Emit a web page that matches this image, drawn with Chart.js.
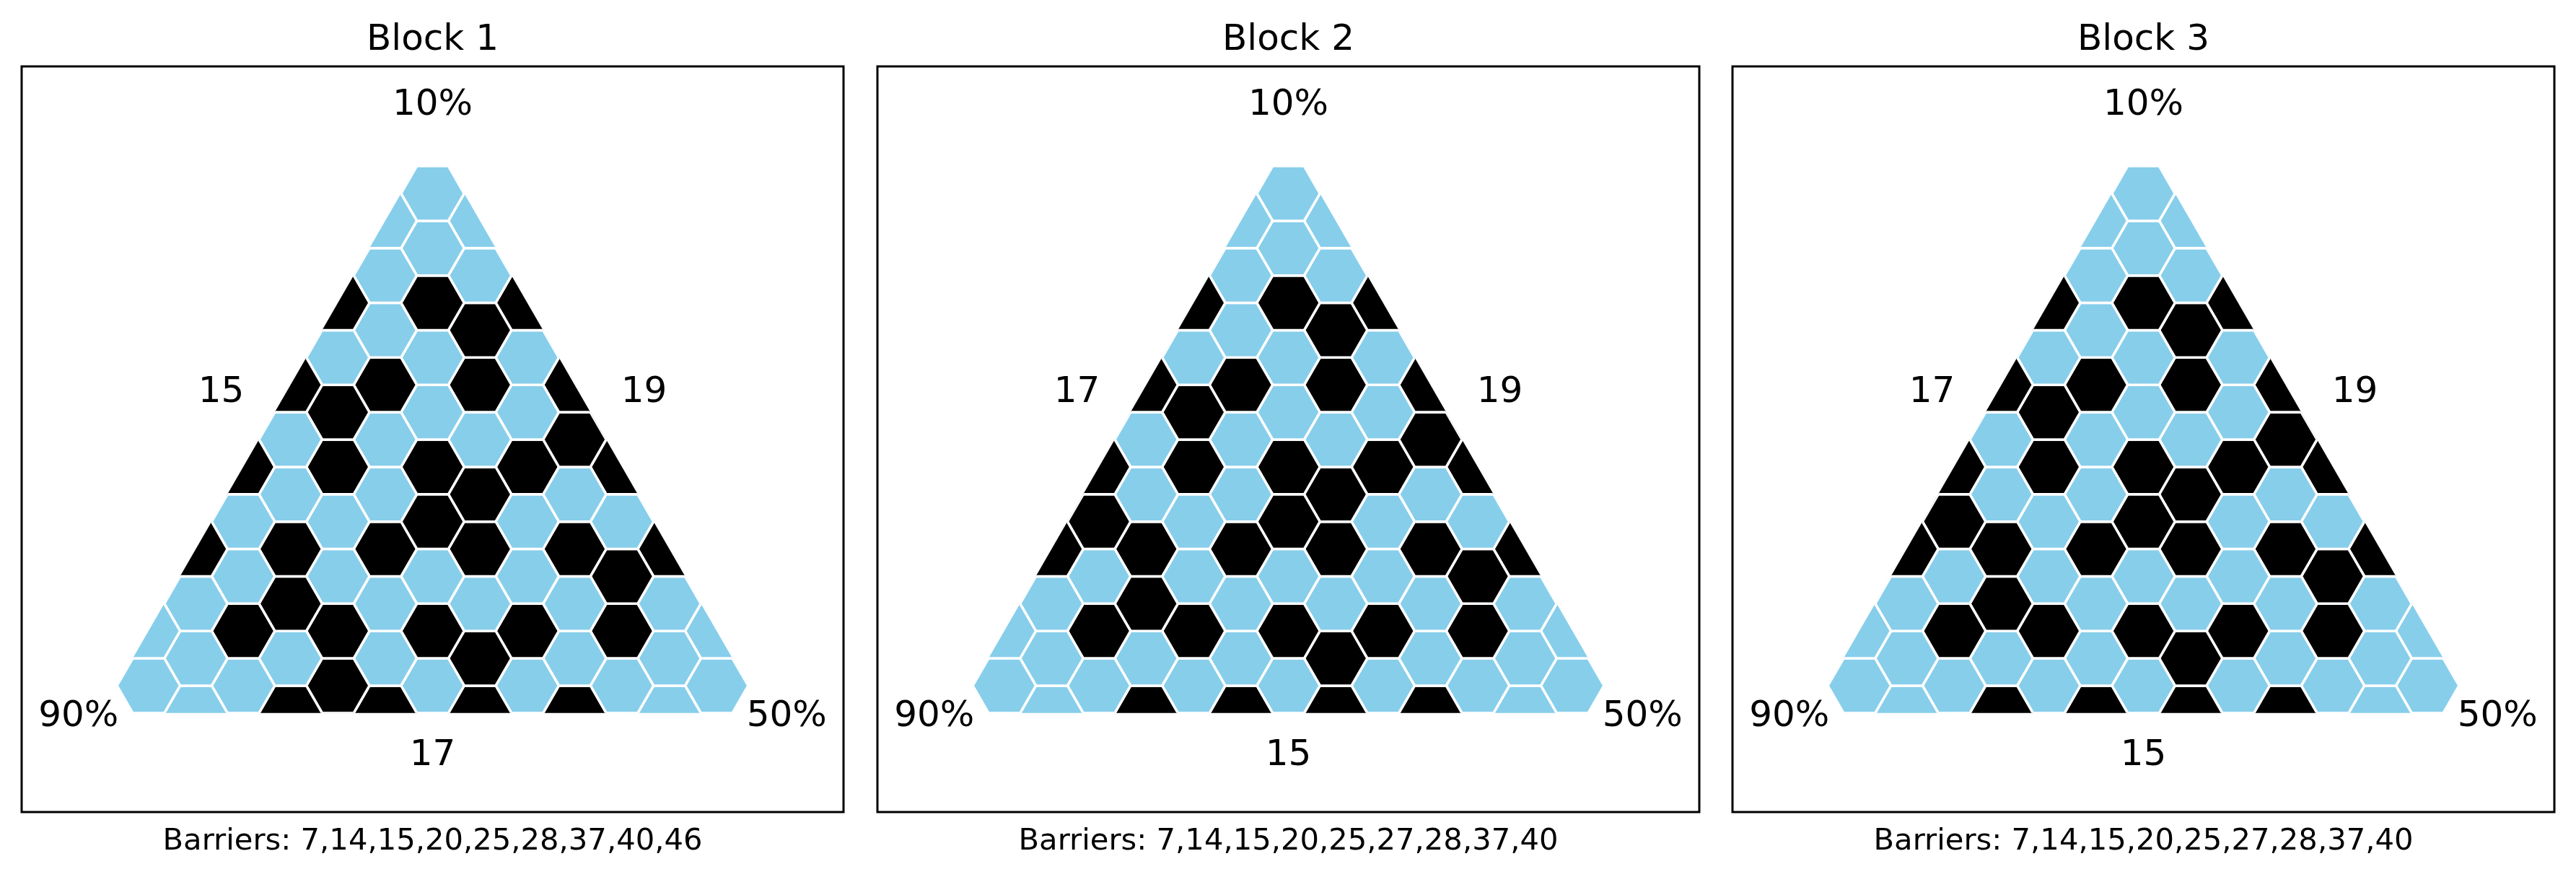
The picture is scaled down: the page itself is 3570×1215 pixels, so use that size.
<!DOCTYPE html>
<html>
<head>
<meta charset="utf-8">
<script src="https://cdn.jsdelivr.net/npm/chart.js@4.4.1/dist/chart.umd.min.js"></script>
<style>
  html, body { margin: 0; padding: 0; background: #ffffff; }
  body { width: 3570px; height: 1215px; position: relative; overflow: hidden; }
  canvas { position: absolute; top: 0; }
</style>
</head>
<body>
<canvas id="c0" width="1185" height="1215" style="left:7px"></canvas>
<canvas id="c1" width="1185" height="1215" style="left:1193px"></canvas>
<canvas id="c2" width="1185" height="1215" style="left:2378px"></canvas>
<script>
// ---------------- data ----------------
const blockTitles = ['Block 1', 'Block 2', 'Block 3'];
const barrierLabels = [
  'Barriers: 7,14,15,20,25,28,37,40,46',
  'Barriers: 7,14,15,20,25,27,28,37,40',
  'Barriers: 7,14,15,20,25,27,28,37,40'
];
const cornerLabels = ['10%', '90%', '50%'];      // top, bottom-left, bottom-right
const leftEdgeLabels = ['15', '17', '17'];
const rightEdgeLabels = ['19', '19', '19'];
const bottomEdgeLabels = ['17', '15', '15'];

// hex columns of the triangular board, left to right
const columns = [-6, -5, -4, -3, -2, -1, 0, 1, 2, 3, 4, 5, 6];
// cell states per column, top to bottom: 1 = black (barrier), 0 = open (sky blue)
const block1Cells = ['00', '1000', '10010', '1001101', '10110011', '0001001001', '0010011010', '0011011011', '10010010', '1101001', '10110', '1000', '00'];
const block2Cells = ['00', '1000', '11010', '1001101', '10110010', '0001001001', '0010011010', '0011011011', '10010010', '1101001', '10110', '1000', '00'];
const block3Cells = ['00', '1000', '11010', '1001101', '10110010', '0001001001', '0010011010', '0011011011', '10010010', '1101001', '10110', '1000', '00'];
const blockCells = [block1Cells, block2Cells, block3Cells];

// ---------------- geometry (hex radius = 1 data unit) ----------------
const S3 = Math.sqrt(3);
const COLOR_OPEN = '#87ceeb';
const COLOR_BARRIER = '#000000';
// triangle clip region in data units
const TRIANGLE = [[0, S3], [-10.5, -9.5 * S3], [10.5, -9.5 * S3]];

function firstRow(c) {
  const a = Math.abs(c);
  return Math.max(a % 2 === 0 ? 0 : 0.5, 1.5 * a - 1);
}

function hexDatasets(cells) {
  const ds = [];
  columns.forEach((c, i) => {
    const r0 = firstRow(c);
    [...cells[i]].forEach((s, k) => {
      const cx = 1.5 * c;
      const cy = -(r0 + k) * S3;
      const pts = [];
      for (let j = 0; j <= 7; j++) {
        const t = (j % 6) * Math.PI / 3;
        pts.push({ x: cx + Math.cos(t), y: cy + Math.sin(t) });
      }
      ds.push({
        data: pts,
        showLine: true,
        fill: 'shape',
        backgroundColor: s === '1' ? COLOR_BARRIER : COLOR_OPEN,
        borderColor: '#ffffff',
        borderWidth: 3.5,
        borderJoinStyle: 'miter',
        pointRadius: 0,
        pointHoverRadius: 0,
        tension: 0
      });
    });
  });
  return ds;
}

const triClip = {
  id: 'triClip',
  beforeDatasetsDraw(chart) {
    const { ctx, scales: { x, y } } = chart;
    ctx.save();
    ctx.beginPath();
    TRIANGLE.forEach((p, i) => {
      const px = x.getPixelForValue(p[0]);
      const py = y.getPixelForValue(p[1]);
      if (i === 0) ctx.moveTo(px, py); else ctx.lineTo(px, py);
    });
    ctx.closePath();
    ctx.clip();
  },
  afterDatasetsDraw(chart) {
    chart.ctx.restore();
  }
};

const decor = {
  id: 'decor',
  afterDraw(chart, args, opts) {
    const { ctx, chartArea: a, scales: { x, y } } = chart;
    ctx.save();
    ctx.strokeStyle = '#000000';
    ctx.lineWidth = 3;
    ctx.strokeRect(a.left, a.top, a.right - a.left, a.bottom - a.top);

    ctx.fillStyle = '#000000';
    ctx.textAlign = 'center';
    ctx.textBaseline = 'alphabetic';
    const mid = (a.left + a.right) / 2;
    ctx.font = '50px "DejaVu Sans"';
    ctx.fillText(opts.title, mid, a.top - 23);

    const put = (txt, dx, dy) => ctx.fillText(txt, x.getPixelForValue(dx), y.getPixelForValue(dy));
    put(opts.corners[0], 0, 2.50);
    put(opts.corners[1], -11.22, -16.87);
    put(opts.corners[2], 11.22, -16.87);
    put(opts.left, -6.70, -6.60);
    put(opts.right, 6.70, -6.60);
    put(opts.bottom, 0, -18.10);

    ctx.font = '41.7px "DejaVu Sans"';
    ctx.fillText(opts.barriers, mid, a.bottom + 52);
    ctx.restore();
  }
};

blockCells.forEach((cells, i) => {
  new Chart(document.getElementById('c' + i), {
    type: 'scatter',
    data: { datasets: hexDatasets(cells) },
    options: {
      responsive: false,
      animation: false,
      devicePixelRatio: 1,
      events: [],
      layout: { padding: { left: 23, right: 23, top: 92, bottom: 90 } },
      scales: {
        x: { type: 'linear', min: -13.02, max: 13.02, display: false },
        y: { type: 'linear', min: -19.589, max: 4.023, display: false }
      },
      plugins: {
        legend: { display: false },
        tooltip: { enabled: false },
        decor: {
          title: blockTitles[i],
          barriers: barrierLabels[i],
          corners: cornerLabels,
          left: leftEdgeLabels[i],
          right: rightEdgeLabels[i],
          bottom: bottomEdgeLabels[i]
        }
      }
    },
    plugins: [triClip, decor]
  });
});
</script>
</body>
</html>
